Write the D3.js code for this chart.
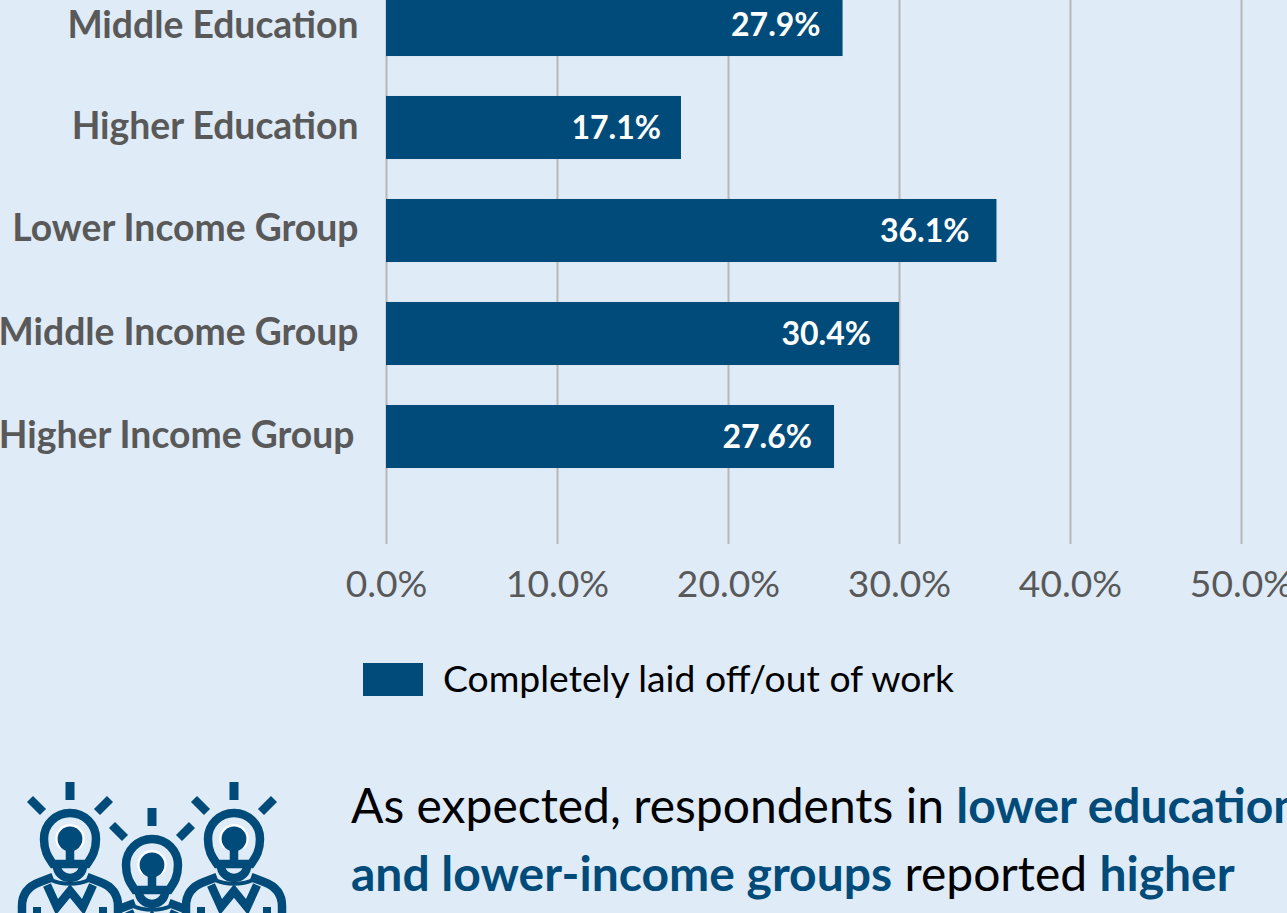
<!DOCTYPE html>
<html><head><meta charset="utf-8">
<script src="https://cdn.jsdelivr.net/npm/d3@7"></script>
<style>
html,body{margin:0;padding:0;background:#dfebf7;overflow:hidden}
svg{display:block}
text{font-family:Lato,Carlito,sans-serif;font-variant-ligatures:common-ligatures}
</style></head><body><div id="chart"></div>
<script>
const categories=["Middle Education","Higher Education","Lower Income Group","Middle Income Group","Higher Income Group"];
const barValues=[26.7,17.25,35.7,30,26.2];
const valueLabels=["27.9%","17.1%","36.1%","30.4%","27.6%"];
const xTicks=[0,10,20,30,40,50];
const legendLabel="Completely laid off/out of work";
const navy="#004b79",grey="#595959";
const W=1287,H=913;
const svg=d3.select("#chart").append("svg").attr("width",W).attr("height",H);
const x=d3.scaleLinear().domain([0,50]).range([386,1241]);
const y=d3.scaleBand().domain(categories).range([-27,488]).paddingInner(0.388).paddingOuter(0.194);
const axis=d3.axisBottom(x).tickValues(xTicks).tickSize(544).tickFormat(d=>d3.format(".1f")(d)+"%");
const gx=svg.append("g").call(axis);
gx.select(".domain").remove();
gx.selectAll("line").attr("stroke","#b7b7b7").attr("stroke-width",2);
gx.selectAll("text").attr("fill",grey).attr("font-size",37.2).attr("dy",0).attr("y",597);
svg.append("g").selectAll("rect").data(categories).join("rect")
 .attr("x",x(0)).attr("y",d=>y(d)).attr("height",y.bandwidth())
 .attr("width",(d,i)=>x(barValues[i])-x(0)).attr("fill",navy);
svg.append("g").selectAll("text").data(categories).join("text")
 .attr("x",(d,i)=>x(barValues[i])-[22,20,27,28,22][i]).attr("y",d=>y(d)+y.bandwidth()/2+11.5)
 .attr("text-anchor","end").attr("fill","#fff").attr("font-size",32).attr("font-weight",700)
 .text((d,i)=>valueLabels[i]);
svg.append("g").selectAll("text").data(categories).join("text")
 .attr("x",(d,i)=>i==4?354.5:358.5).attr("y",(d,i)=>y(d)+y.bandwidth()/2+(i==0?13:i==2?10:11))
 .attr("text-anchor","end")
 .attr("fill",grey).attr("font-size",37.3).attr("font-weight",700).text(d=>d);
svg.append("rect").attr("x",363).attr("y",663).attr("width",60).attr("height",33).attr("fill",navy);
svg.append("text").attr("x",443).attr("y",692).attr("font-size",37.3).attr("fill","#000").text(legendLabel);
const t1=svg.append("text").attr("x",351).attr("y",823).attr("font-size",48).attr("fill","#000");
t1.append("tspan").text("As expected, respondents in ");
t1.append("tspan").attr("font-weight",700).attr("fill",navy).text("lower education");
const t2=svg.append("text").attr("x",351).attr("y",891).attr("font-size",48).attr("fill","#000");
t2.append("tspan").attr("font-weight",700).attr("fill",navy).text("and lower-income groups");
t2.append("tspan").text(" reported ");
t2.append("tspan").attr("font-weight",700).attr("fill",navy).text("higher");
// icon: three people with light-bulb heads
const icon=svg.append("g");
function person(cx,cy,side){
 const s=icon.append("g").attr("transform",`translate(${cx},${cy})`).attr("fill","none").attr("stroke",navy).attr("stroke-width",8.5);
 s.append("path").attr("d","M0,-57V-39").attr("stroke-width",9);
 s.append("path").attr("d","M-40,-40L-27,-27M40,-40L27,-27").attr("stroke-width",8.5).attr("stroke-linecap","butt");
 s.append("path").attr("d","M-17,25C-21,19 -26,13 -26,0A26,26 0 1 1 26,0C26,13 21,19 17,25Z");
 s.append("path").attr("d","M-13,25V27A13,12 0 0 0 13,27V25");
 s.append("path").attr("d","M0,0V25");
 s.append("circle").attr("r",12.5).attr("fill",navy).attr("stroke","none");
 s.append("path").attr("d","M-10,9A13.7,13.7 0 1 1 10,9").attr("stroke","#fff").attr("stroke-width",2);
 if(side){
  s.append("path").attr("d","M-17,38L-30,43C-41,47 -48,55 -48,67V80M17,38L30,43C41,47 48,55 48,67V80");
  s.append("path").attr("d","M-33,68L-33,80M33,68L33,80").attr("stroke-width",8);
 } else {
  s.append("path").attr("d","M-17,38L-33,44M17,38L33,44");
 }
 s.append("path").attr("d","M-23,46L-13,68L0,52L13,68L23,46");
 s.append("path").attr("d","M-19,41C-8,46 8,46 19,41").attr("stroke-width",4);
}
person(152,865,false);
person(70,839,true);
person(234,839,true);
</script></body></html>
